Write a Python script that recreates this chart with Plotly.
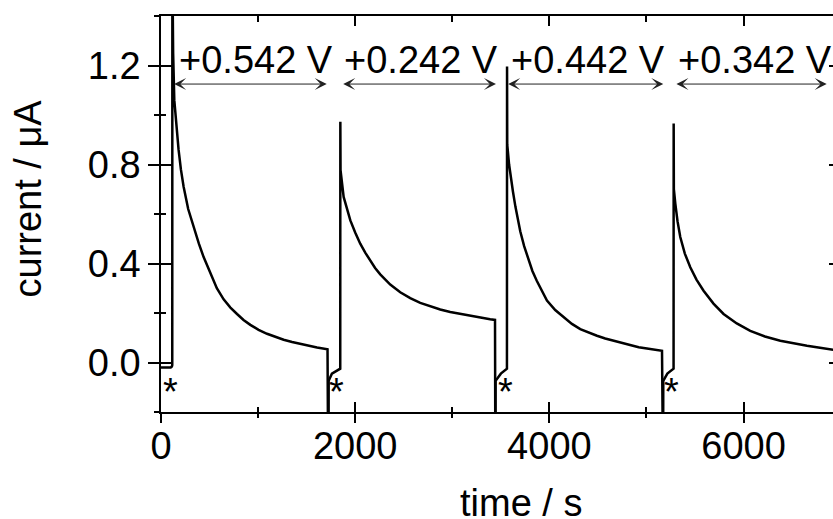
import plotly.graph_objects as go

# ---- data ----
seg1_t = [0, 60, 100, 112, 116, 117, 119, 125, 137, 160, 181, 205, 233, 280, 336, 390, 439, 508, 575, 645, 715, 783, 850, 920, 1005, 1092, 1180, 1263, 1350, 1435, 1520, 1607, 1715, 1720]
seg1_i = [-0.02, -0.02, -0.02, -0.016, -0.01, 1.6, 1.45, 1.25, 1.06, 0.95, 0.86, 0.78, 0.71, 0.62, 0.547, 0.48, 0.426, 0.36, 0.30, 0.255, 0.222, 0.196, 0.172, 0.152, 0.132, 0.116, 0.103, 0.092, 0.083, 0.075, 0.068, 0.061, 0.053, -0.3]

seg2_t = [1726, 1727, 1760, 1812, 1840, 1846, 1847, 1849, 1881, 1915, 1950, 2000, 2052, 2105, 2155, 2205, 2258, 2361, 2464, 2567, 2670, 2773, 2876, 2979, 3082, 3185, 3288, 3390, 3440, 3443]
seg2_i = [-0.3, -0.074, -0.045, -0.034, -0.027, -0.025, 0.973, 0.777, 0.669, 0.62, 0.574, 0.525, 0.48, 0.443, 0.41, 0.382, 0.356, 0.315, 0.284, 0.26, 0.241, 0.226, 0.214, 0.204, 0.196, 0.189, 0.182, 0.175, 0.172, -0.3]

seg3_t = [3445, 3446, 3500, 3540, 3558, 3563, 3564, 3566, 3585, 3600, 3625, 3650, 3675, 3700, 3740, 3780, 3825, 3870, 3920, 3975, 4060, 4146, 4232, 4318, 4404, 4490, 4575, 4661, 4747, 4833, 4920, 5005, 5080, 5160, 5168]
seg3_i = [-0.3, -0.074, -0.045, -0.034, -0.027, -0.025, 1.196, 0.88, 0.8, 0.75, 0.69, 0.63, 0.58, 0.53, 0.47, 0.42, 0.37, 0.33, 0.29, 0.25, 0.212, 0.182, 0.156, 0.135, 0.12, 0.108, 0.097, 0.088, 0.078, 0.068, 0.062, 0.057, 0.052, 0.047, -0.3]

seg4_t = [5172, 5173, 5215, 5255, 5274, 5279, 5280, 5282, 5297, 5320, 5348, 5395, 5451, 5515, 5588, 5690, 5794, 5930, 6069, 6220, 6378, 6515, 6653, 6770, 6893, 6950]
seg4_i = [-0.3, -0.074, -0.045, -0.034, -0.027, -0.025, 0.966, 0.70, 0.642, 0.57, 0.507, 0.44, 0.385, 0.335, 0.29, 0.238, 0.196, 0.158, 0.128, 0.105, 0.088, 0.077, 0.068, 0.061, 0.054, 0.05]

potential_labels = ["+0.542 V", "+0.242 V", "+0.442 V", "+0.342 V"]
label_t = [978, 2678, 4397, 6117]
label_i = 1.222
arrow_start = [120, 1861, 3560, 5293]
arrow_end = [1707, 3450, 5173, 6856]
arrow_i = 1.125
star_t = [93, 1809, 3543, 5260]
star_i = -0.119

X_RANGE = [0, 6921]
Y_RANGE = [-0.2, 1.4]

FONT = "Arial, Liberation Sans, sans-serif"
FS = 38

fig = go.Figure()
for t, i in [(seg1_t, seg1_i), (seg2_t, seg2_i), (seg3_t, seg3_i), (seg4_t, seg4_i)]:
    fig.add_trace(go.Scatter(x=t, y=i, mode="lines",
                             line=dict(color="black", width=2.5),
                             showlegend=False, hoverinfo="skip"))

# empty helper traces so that the frame axes (top, right, crossing ticks) are drawn
for xa, ya in [("x2", "y"), ("x3", "y"), ("x", "y2"), ("x", "y3")]:
    fig.add_trace(go.Scatter(x=[None], y=[None], xaxis=xa, yaxis=ya, mode="lines",
                             showlegend=False, hoverinfo="skip"))

annotations = []
for lab, lt in zip(potential_labels, label_t):
    annotations.append(dict(x=lt, y=label_i, xref="x", yref="y", text=lab,
                            showarrow=False, font=dict(family=FONT, size=FS, color="black"),
                            xanchor="center", yanchor="middle"))
for a0, a1 in zip(arrow_start, arrow_end):
    annotations.append(dict(x=a1, y=arrow_i, ax=a0, ay=arrow_i, xref="x", yref="y",
                            axref="x", ayref="y", text="", showarrow=True,
                            arrowside="end+start", arrowhead=3, startarrowhead=3,
                            arrowsize=2, startarrowsize=2, arrowwidth=1,
                            arrowcolor="#222222"))
for st in star_t:
    annotations.append(dict(x=st, y=star_i, xref="x", yref="y", text="*",
                            showarrow=False, font=dict(family=FONT, size=FS, color="black"),
                            xanchor="center", yanchor="middle"))
annotations.append(dict(x=-0.198, y=0.539, xref="paper", yref="paper", text="current / μA",
                        textangle=-90, showarrow=False,
                        font=dict(family=FONT, size=FS, color="black"),
                        xanchor="center", yanchor="middle"))
annotations.append(dict(x=0.535, y=-0.229, xref="paper", yref="paper", text="time / s",
                        showarrow=False, font=dict(family=FONT, size=FS, color="black"),
                        xanchor="center", yanchor="middle"))

axis_common = dict(showgrid=False, zeroline=False, tickcolor="black", tickwidth=1.5)

fig.update_layout(
    width=833, height=519,
    margin=dict(l=161, r=0, t=16, b=107),
    paper_bgcolor="white", plot_bgcolor="white",
    font=dict(family=FONT, size=FS, color="black"),
    annotations=annotations,
    xaxis=dict(range=X_RANGE, tickmode="linear", tick0=0, dtick=2000,
               ticks="inside", ticklen=10, showline=True, linecolor="black", linewidth=1.5,
               minor=dict(ticks="inside", ticklen=5, dtick=1000, tick0=0, tickcolor="black", tickwidth=1.5),
               tickfont=dict(family=FONT, size=FS, color="black"), **axis_common),
    yaxis=dict(range=Y_RANGE, tickmode="linear", tick0=0, dtick=0.4, tickformat=".1f",
               ticks="outside", ticklen=11, showline=True, linecolor="black", linewidth=1.5,
               ticklabelstandoff=0,
               minor=dict(ticks="outside", ticklen=5, dtick=0.2, tick0=0, tickcolor="black", tickwidth=1.5),
               tickfont=dict(family=FONT, size=FS, color="black"), **axis_common),
    xaxis2=dict(range=X_RANGE, overlaying="x", side="top", anchor="y", tickmode="linear", tick0=0, dtick=2000,
                ticks="inside", ticklen=10, showline=True, linecolor="black", linewidth=1.5,
                showticklabels=False,
                minor=dict(ticks="inside", ticklen=6, dtick=1000, tick0=0, tickcolor="black", tickwidth=1.5),
                **axis_common),
    xaxis3=dict(range=X_RANGE, overlaying="x", side="bottom", anchor="y", tickmode="linear", tick0=0, dtick=2000,
                ticks="outside", ticklen=10, showline=False, showticklabels=False,
                minor=dict(ticks="outside", ticklen=5, dtick=1000, tick0=0, tickcolor="black", tickwidth=1.5),
                **axis_common),
    yaxis2=dict(range=Y_RANGE, overlaying="y", side="right", anchor="x", tickmode="linear", tick0=0, dtick=0.4,
                ticks="inside", ticklen=4, showline=False, showticklabels=False, **axis_common),
    yaxis3=dict(range=Y_RANGE, overlaying="y", side="left", anchor="x", tickmode="linear", tick0=0, dtick=0.4,
                ticks="inside", ticklen=11, showline=False, showticklabels=False,
                minor=dict(ticks="inside", ticklen=5, dtick=0.2, tick0=0, tickcolor="black", tickwidth=1.5),
                **axis_common),
)

fig.write_html("out.html", config={"displayModeBar": False},
               post_script="document.body.style.margin='0';document.body.style.overflow='hidden';")
